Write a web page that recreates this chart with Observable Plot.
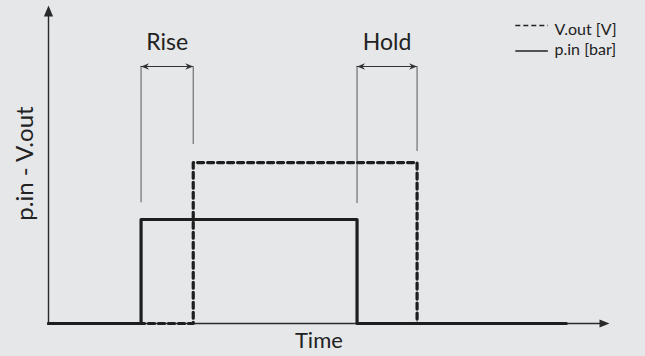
<!DOCTYPE html>
<html>
<head>
<meta charset="utf-8">
<script src="https://cdn.jsdelivr.net/npm/d3@7"></script>
<script src="https://cdn.jsdelivr.net/npm/@observablehq/plot@0.6"></script>
<style>
  html, body { margin: 0; padding: 0; background: #e6e7e9; }
</style>
</head>
<body>
<div id="chart"></div>
<script>
// Data (abstract time / signal units)
const pinTime = [0, 16.5, 55, 92.3];
const pinValue = [0, 32.7, 0, 0];
const voutTime = [0, 25.8, 65.7, 92.3];
const voutValue = [0, 50.6, 0, 0];

const guideX = [16.5, 25.8, 55, 65.7];
const guideBottom = [38, 56.3, 37.7, 54.1];
const guideTop = 80.8;

const intervalLabels = ["Rise", "Hold"];
const intervalStart = [16.5, 55];
const intervalEnd = [25.8, 65.7];

const legendLabels = ["V.out [V]", "p.in [bar]"];
const legendDashed = [true, false];
const legendLineY = [93.7, 85.7];
const legendTextY = [92.4, 85.9];

const axisXEnd = 100, axisYEnd = 100;

const pin = pinTime.map((t, i) => ({t, v: pinValue[i]}));
const vout = voutTime.map((t, i) => ({t, v: voutValue[i]}));
const guides = guideX.map((x, i) => ({x, y1: guideBottom[i], y2: guideTop}));
const intervals = intervalLabels.map((label, i) => ({label, x1: intervalStart[i], x2: intervalEnd[i], y: guideTop}));
const legend = legendLabels.map((label, i) => ({label, dashed: legendDashed[i], ly: legendLineY[i], ty: legendTextY[i]}));

const upHead = {draw(c) { c.moveTo(0, 0); c.lineTo(4.6, 11); c.lineTo(-4.6, 11); c.closePath(); }};
const rightHead = {draw(c) { c.moveTo(0, 0); c.lineTo(-10, -4); c.lineTo(-10, 4); c.closePath(); }};
const smallRight = {draw(c) { c.moveTo(0, 0); c.lineTo(-8, -3.2); c.lineTo(-5.5, 0); c.lineTo(-8, 3.2); c.closePath(); }};
const smallLeft = {draw(c) { c.moveTo(0, 0); c.lineTo(8, -3.2); c.lineTo(5.5, 0); c.lineTo(8, 3.2); c.closePath(); }};

const guideColor = "#707070";
const axisColor = "#2a2a2a";
const traceColor = "#1e1e1e";

const chart = Plot.plot({
  width: 645,
  height: 356,
  marginLeft: 48,
  marginRight: 36,
  marginTop: 5,
  marginBottom: 33,
  x: {domain: [0, 100], axis: null},
  y: {domain: [0, 100], axis: null},
  style: {fontFamily: "Lato, 'Open Sans', sans-serif", background: "#e6e7e9", color: "#222"},
  marks: [
    // guide lines
    Plot.ruleX(guides, {x: "x", y1: "y1", y2: "y2", stroke: guideColor, strokeWidth: 1.2}),
    // interval arrows
    Plot.ruleY(intervals, {y: "y", x1: "x1", x2: "x2", stroke: "#333", strokeWidth: 1.1}),
    Plot.dot(intervals, {x: "x2", y: "y", symbol: smallRight, fill: "#333", stroke: null, r: 4}),
    Plot.dot(intervals, {x: "x1", y: "y", symbol: smallLeft, fill: "#333", stroke: null, r: 4}),
    Plot.text(intervals, {x: d => (d.x1 + d.x2) / 2, y: 88.4, text: "label", fontSize: 23, fill: "#222"}),
    // axes
    Plot.ruleX([0], {y1: 0, y2: axisYEnd - 3, stroke: axisColor, strokeWidth: 1.4}),
    Plot.ruleY([0], {x1: 0, x2: axisXEnd - 1.5, stroke: axisColor, strokeWidth: 1.4}),
    Plot.dot([0], {x: 0, y: axisYEnd, symbol: upHead, fill: axisColor, stroke: null, r: 5}),
    Plot.dot([0], {x: axisXEnd, y: 0, symbol: rightHead, fill: axisColor, stroke: null, r: 5}),
    // traces
    Plot.line(vout, {x: "t", y: "v", curve: "step-after", stroke: traceColor, strokeWidth: 3.2, strokeDasharray: "6,4"}),
    Plot.line(pin, {x: "t", y: "v", curve: "step-after", stroke: traceColor, strokeWidth: 3.2}),
    // axis labels
    Plot.text(["Time"], {x: 48.2, y: -5.4, text: d => d, fontSize: 22, fill: "#222"}),
    Plot.text(["p.in - V.out"], {x: -4.2, y: 50.3, text: d => d, fontSize: 24, rotate: -90, fill: "#222"}),
    // legend
    Plot.ruleY(legend.filter(d => d.dashed), {y: "ly", x1: 83.3, x2: 89.1, stroke: "#222", strokeWidth: 1.4, strokeDasharray: "5,3"}),
    Plot.ruleY(legend.filter(d => !d.dashed), {y: "ly", x1: 83.3, x2: 89.1, stroke: "#222", strokeWidth: 1.4}),
    Plot.text(legend, {x: 90.2, y: "ty", text: "label", textAnchor: "start", fontSize: 16, fill: "#222"})
  ]
});
document.getElementById("chart").appendChild(chart);
</script>
</body>
</html>
